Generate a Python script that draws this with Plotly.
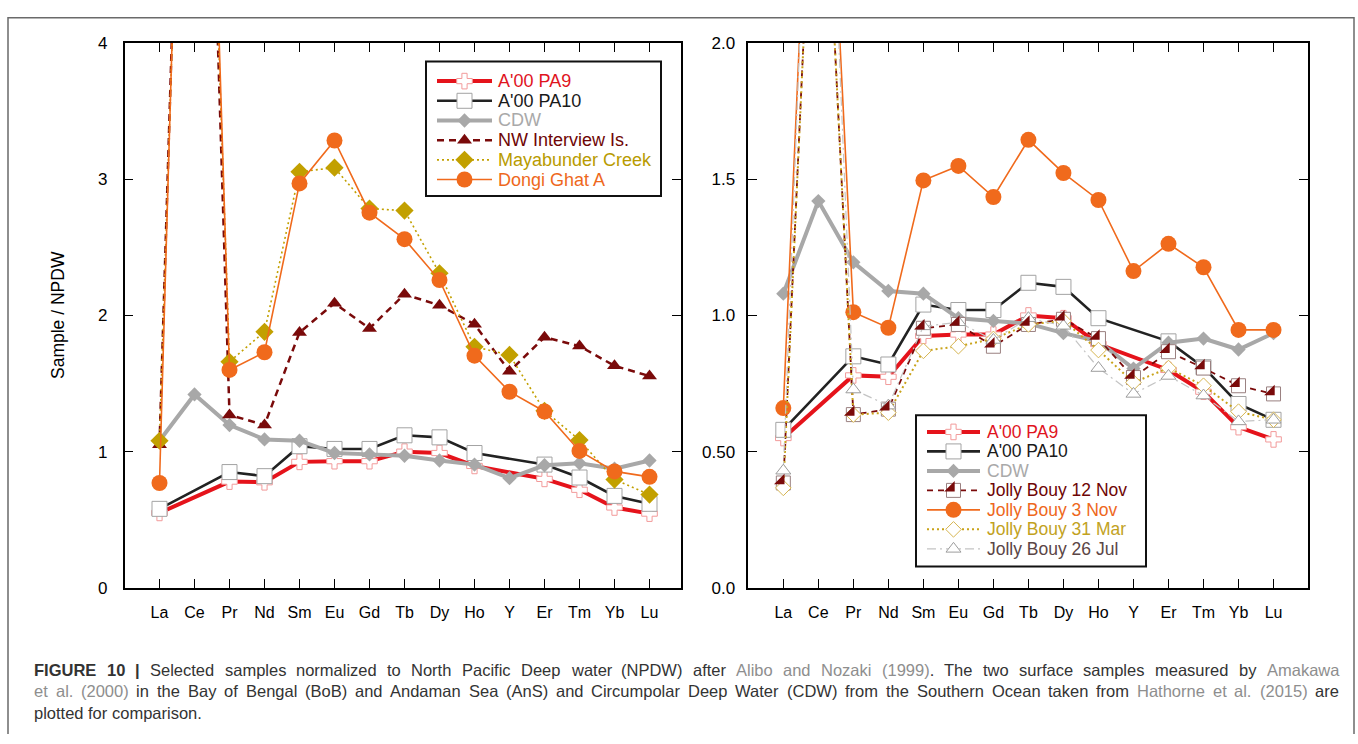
import plotly.graph_objects as go

W, H = 1358, 744

# ---------------------------------------------------------------- data
elements = ["La", "Ce", "Pr", "Nd", "Sm", "Eu", "Gd", "Tb", "Dy", "Ho", "Y", "Er", "Tm", "Yb", "Lu"]

# Amakawa et al. (2000) surface samples and CDW (Hathorne et al. 2015), NPDW-normalised
pa9 = [0.55, None, 0.78, 0.775, 0.925, 0.93, 0.93, 1.00, 0.99, 0.895, None, 0.80, 0.72, 0.59, 0.545]
pa10 = [0.58, None, 0.85, 0.82, 1.04, 1.02, 1.02, 1.12, 1.105, 0.99, None, 0.905, 0.81, 0.675, 0.617]
cdw = [1.08, 1.42, 1.195, 1.09, 1.08, 0.99, 0.98, 0.97, 0.935, 0.905, 0.805, 0.90, 0.915, 0.875, 0.935]

# left panel samples
nw_interview = [1.05, 9.5, 1.27, 1.195, 1.875, 2.09, 1.905, 2.155, 2.075, 1.935, 1.59, 1.84, 1.775, 1.63, 1.555]
mayabunder = [1.08, 9.2, 1.66, 1.88, 3.055, 3.085, 2.785, 2.77, 2.31, 1.77, 1.71, 1.30, 1.085, 0.795, 0.685]
dongi_ghat = [0.77, 9.8, 1.60, 1.73, 2.97, 3.285, 2.755, 2.56, 2.26, 1.705, 1.44, 1.295, 1.005, 0.855, 0.815]

# right panel: Jolly Bouy
jb_12nov = [0.385, 3.2, 0.636, 0.656, 0.953, 0.967, 0.887, 0.967, 0.986, 0.915, 0.772, 0.867, 0.807, 0.742, 0.712]
jb_3nov = [0.66, 3.6, 1.012, 0.955, 1.496, 1.549, 1.435, 1.645, 1.523, 1.424, 1.163, 1.263, 1.177, 0.947, 0.947]
jb_31mar = [0.367, 3.2, 0.636, 0.643, 0.870, 0.887, 0.914, 0.967, 0.980, 0.873, 0.754, 0.807, 0.742, 0.647, 0.617]
jb_26jul = [0.43, 3.8, 0.728, 0.669, 0.960, 0.975, 0.910, 0.990, 0.962, 0.807, 0.712, 0.778, 0.706, 0.611, 0.617]

left_yticks = [0, 1, 2, 3, 4]
left_yticklabels = ["0", "1", "2", "3", "4"]
right_yticks = [0, 0.5, 1.0, 1.5, 2.0]
right_yticklabels = ["0.0", "0.50", "1.0", "1.5", "2.0"]

# ---------------------------------------------------------------- styles
FONT = "Liberation Sans, Arial, Helvetica, sans-serif"
RED, RED_MK = "#e5131b", "#f29a9a"
BLACK, SQ_MK = "#222222", "#a3a3a3"
GREY = "#a8a8a8"
DARKRED = "#7a0a0a"
GOLD = "#c2a000"
ORANGE = "#f06a1c"
GOLD2, GOLD2_MK = "#c9a31a", "#d6b551"
JUL_LINE, JUL_MK, JUL_TXT = "#c4c4c4", "#9c9c9c", "#5b4646"

styles = {
    "pa9": dict(line=dict(color=RED, width=4),
                marker=dict(symbol="cross", size=13, color="white", line=dict(color=RED_MK, width=1))),
    "pa10": dict(line=dict(color=BLACK, width=2.6),
                 marker=dict(symbol="square", size=15, color="white", line=dict(color=SQ_MK, width=1))),
    "cdw": dict(line=dict(color=GREY, width=4),
                marker=dict(symbol="diamond", size=11, color=GREY)),
    "nw": dict(line=dict(color=DARKRED, width=2.5, dash="7px,5px"),
               marker=dict(symbol="triangle-up", size=13, color=DARKRED)),
    "maya": dict(line=dict(color=GOLD, width=1.6, dash="2px,3px"),
                 marker=dict(symbol="diamond", size=14, color=GOLD)),
    "dongi": dict(line=dict(color=ORANGE, width=1.6),
                  marker=dict(symbol="circle", size=16, color=ORANGE)),
    "nov12": dict(line=dict(color=DARKRED, width=1.8, dash="6px,5px"),
                  marker=dict(symbol="square", size=14, color="white", line=dict(color="#9a8080", width=1))),
    "nov3": dict(line=dict(color=ORANGE, width=1.6),
                 marker=dict(symbol="circle", size=16, color=ORANGE)),
    "mar31": dict(line=dict(color=GOLD2, width=2, dash="2px,3px"),
                  marker=dict(symbol="diamond", size=12, color="white", line=dict(color=GOLD2_MK, width=1))),
    "jul26": dict(line=dict(color=JUL_LINE, width=1.2, dash="9px,4px,2px,4px"),
                  marker=dict(symbol="triangle-up", size=13, color="white", line=dict(color=JUL_MK, width=1))),
}
# lower-right half of the 12 Nov square marker
HALF_SQ = 14
TRI_SIZE = HALF_SQ / 1.2
TRI_SHIFT = 0.4 * (TRI_SIZE / 2)
half_marker = dict(symbol="triangle-se", size=TRI_SIZE, color=DARKRED, line=dict(width=0))

fig = go.Figure()


def add_series(values, key, xa, ya):
    st = styles[key]
    fig.add_trace(go.Scatter(x=elements, y=values, mode="lines+markers", connectgaps=True,
                             line=st["line"], marker=st["marker"], xaxis=xa, yaxis=ya,
                             showlegend=False, hoverinfo="skip"))


# left panel
for vals, key in [(pa9, "pa9"), (pa10, "pa10"), (cdw, "cdw"), (nw_interview, "nw"),
                  (mayabunder, "maya"), (dongi_ghat, "dongi")]:
    add_series(vals, key, "x", "y")

# right panel
for vals, key in [(pa9, "pa9"), (pa10, "pa10"), (cdw, "cdw"), (jb_12nov, "nov12"),
                  (jb_3nov, "nov3"), (jb_31mar, "mar31"), (jb_26jul, "jul26")]:
    add_series(vals, key, "x2", "y2")

fig.add_trace(go.Scatter(x=elements, y=jb_12nov, mode="markers", marker=half_marker,
                         xaxis="x4", yaxis="y4", showlegend=False, hoverinfo="skip"))

# ---------------------------------------------------------------- legends (pixel frame on x3/y3)
shapes = []
annotations = []


def legend_block(box, x0, x1, xt, y_first, dy, fsize, entries):
    bx0, by0, bx1, by1 = box
    shapes.append(dict(type="rect", xref="x3", yref="y3", x0=bx0, x1=bx1, y0=by0, y1=by1,
                       line=dict(color="#111111", width=2), fillcolor="white", layer="below"))
    for i, (key, label, tcolor) in enumerate(entries):
        y = y_first + i * dy
        st = styles[key]
        fig.add_trace(go.Scatter(x=[x0, x1], y=[y, y], mode="lines", line=st["line"],
                                 xaxis="x3", yaxis="y3", showlegend=False, hoverinfo="skip"))
        xm = (x0 + x1) / 2
        fig.add_trace(go.Scatter(x=[xm], y=[y], mode="markers", marker=st["marker"],
                                 xaxis="x3", yaxis="y3", showlegend=False, hoverinfo="skip"))
        if key == "nov12":
            fig.add_trace(go.Scatter(x=[xm - TRI_SHIFT], y=[y - TRI_SHIFT], mode="markers",
                                     marker=half_marker, xaxis="x3", yaxis="y3",
                                     showlegend=False, hoverinfo="skip"))
        annotations.append(dict(x=xt, y=y, xref="x3", yref="y3", text=label, showarrow=False,
                                xanchor="left", yanchor="middle",
                                font=dict(family=FONT, size=fsize, color=tcolor)))


legend_block((426, 54, 661, 192), 437, 492, 496, 74, 20.2, 18, [
    ("pa9", "A'00 PA9", "#e0141e"),
    ("pa10", "A'00 PA10", "#1a1a1a"),
    ("cdw", "CDW", "#a9a9a9"),
    ("nw", "NW Interview Is.", "#6e0505"),
    ("maya", "Mayabunder Creek", "#b89b00"),
    ("dongi", "Dongi Ghat A", "#ee681c"),
])

legend_block((916, 417, 1146, 572), 927, 980, 985, 434, 20, 17.5, [
    ("pa9", "A'00 PA9", "#e0141e"),
    ("pa10", "A'00 PA10", "#1a1a1a"),
    ("cdw", "CDW", "#a9a9a9"),
    ("nov12", "Jolly Bouy 12 Nov", "#6e0505"),
    ("nov3", "Jolly Bouy 3 Nov", "#ee681c"),
    ("mar31", "Jolly Bouy 31 Mar", "#c2a21e"),
    ("jul26", "Jolly Bouy 26 Jul", JUL_TXT),
])

# y-axis title of the left panel
annotations.append(dict(x=58, y=314, xref="x3", yref="y3", text="Sample / NPDW", showarrow=False,
                        textangle=-90, xanchor="center", yanchor="middle",
                        font=dict(family=FONT, size=17.5, color="black")))

# ---------------------------------------------------------------- justified caption
LINK = "#8e8e8e"
TXT = "#333333"
CAP_SIZE = 16.5
CAP_X0, CAP_X1 = 33, 1338
CAP_Y0, CAP_DY = 678, 22

# advance widths (1/1000 em) of the Arial-metric face used for the caption
_REG = {" ": 278, "(": 333, ")": 333, ".": 278, ",": 278, "|": 260, "'": 191, "/": 278, "-": 333}
_REG.update({d: 556 for d in "0123456789"})
_REG.update(dict(zip("ABCDEFGHIJKLMNOPQRSTUVWXYZ",
                     [667, 667, 722, 722, 667, 611, 778, 722, 278, 500, 667, 556, 833,
                      722, 778, 667, 778, 722, 667, 611, 722, 667, 944, 667, 667, 611])))
_REG.update(dict(zip("abcdefghijklmnopqrstuvwxyz",
                     [556, 556, 500, 556, 556, 278, 556, 556, 222, 222, 500, 222, 833,
                      556, 556, 556, 556, 333, 500, 278, 556, 500, 722, 500, 500, 500])))
_BOLD = dict(_REG)
_BOLD.update({"|": 280})
_BOLD.update(dict(zip("ABCDEFGHIJKLMNOPQRSTUVWXYZ",
                      [722, 722, 722, 722, 667, 611, 778, 722, 278, 556, 722, 611, 833,
                       722, 778, 667, 778, 722, 667, 611, 722, 667, 944, 667, 667, 611])))


def run_width(text, style):
    table = _BOLD if style == "b" else _REG
    return sum(table.get(ch, 556) for ch in text) * CAP_SIZE / 1000.0


def styled(text, style):
    if style == "b":
        return f"<b>{text}</b>"
    if style == "l":
        return f"<span style='color:{LINK}'>{text}</span>"
    return text


caption_runs = [
    [("FIGURE 10 |", "b"),
     (" Selected samples normalized to North Pacific Deep water (NPDW) after ", "n"),
     ("Alibo and Nozaki (1999)", "l"),
     (". The two surface samples measured by ", "n"),
     ("Amakawa", "l")],
    [("et al. (2000)", "l"),
     (" in the Bay of Bengal (BoB) and Andaman Sea (AnS) and Circumpolar Deep Water (CDW) "
      "from the Southern Ocean taken from ", "n"),
     ("Hathorne et al. (2015)", "l"),
     (" are", "n")],
    [("plotted for comparison.", "n")],
]


def split_words(runs):
    words, cur = [], []
    for text, style in runs:
        parts = text.split(" ")
        for j, part in enumerate(parts):
            if j > 0:
                if cur:
                    words.append(cur)
                cur = []
            if part:
                cur.append((part, style))
    if cur:
        words.append(cur)
    return words


for li, runs in enumerate(caption_runs):
    words = split_words(runs)
    widths = [sum(run_width(t, s) for t, s in w) for w in words]
    normal_gap = run_width(" ", "n")
    last_line = li == len(caption_runs) - 1
    gap = normal_gap if last_line else (CAP_X1 - CAP_X0 - sum(widths)) / (len(words) - 1)
    x = CAP_X0
    for w, wd in zip(words, widths):
        annotations.append(dict(x=x, y=CAP_Y0 + CAP_DY * li, xref="x3", yref="y3",
                                text="".join(styled(t, s) for t, s in w), showarrow=False,
                                xanchor="left", yanchor="middle", borderpad=0,
                                font=dict(family=FONT, size=CAP_SIZE, color=TXT)))
        x += wd + gap

# outer frame
shapes.append(dict(type="rect", xref="x3", yref="y3", x0=8, x1=1354, y0=9, y1=760,
                   line=dict(color="#6a6a6a", width=1.5), fillcolor="rgba(0,0,0,0)", layer="below"))

# ---------------------------------------------------------------- axes
LX0, LX1 = 124.5, 681.0
RX0, RX1 = 748.3, 1307.5
Y_TOP, Y_BOT = 35.0, 594.0


def dom_x(a, b):
    return [a / W, b / W]


def dom_y(top, bot):
    return [1 - bot / H, 1 - top / H]


axis_common = dict(showline=True, linecolor="black", linewidth=1.5, mirror="ticks",
                   ticks="inside", ticklen=9, tickwidth=1.3, tickcolor="black",
                   showgrid=False, zeroline=False, fixedrange=True)

xcat = dict(type="category", categoryorder="array", categoryarray=elements,
            tickfont=dict(family=FONT, size=16, color="black"), ticklabelstandoff=9)

fig.update_layout(
    width=W, height=H,
    margin=dict(l=0, r=0, t=0, b=0),
    paper_bgcolor="white", plot_bgcolor="rgba(0,0,0,0)",
    showlegend=False,
    xaxis=dict(**axis_common, **xcat, domain=dom_x(LX0, LX1), range=[-1, 14.9], anchor="y"),
    yaxis=dict(**axis_common, domain=dom_y(Y_TOP, Y_BOT), range=[0, 4], anchor="x",
               tickvals=left_yticks, ticktext=left_yticklabels, ticklabelstandoff=12,
               tickfont=dict(family=FONT, size=17, color="black")),
    xaxis2=dict(**axis_common, **xcat, domain=dom_x(RX0, RX1), range=[-1, 14.97], anchor="y2"),
    yaxis2=dict(**axis_common, domain=dom_y(Y_TOP, Y_BOT), range=[0, 2], anchor="x2",
                tickvals=right_yticks, ticktext=right_yticklabels, ticklabelstandoff=8,
                tickfont=dict(family=FONT, size=17, color="black")),
    xaxis3=dict(domain=[0, 1], range=[0, W], visible=False, fixedrange=True, anchor="y3"),
    yaxis3=dict(domain=[0, 1], range=[H, 0], visible=False, fixedrange=True, anchor="x3"),
    xaxis4=dict(type="category", categoryorder="array", categoryarray=elements, visible=False,
                domain=dom_x(RX0 - TRI_SHIFT, RX1 - TRI_SHIFT), range=[-1, 14.97],
                fixedrange=True, anchor="y4"),
    yaxis4=dict(visible=False, domain=dom_y(Y_TOP - TRI_SHIFT, Y_BOT - TRI_SHIFT), range=[0, 2],
                fixedrange=True, anchor="x4"),
    shapes=shapes,
    annotations=annotations,
)

fig.write_html("out.html")
